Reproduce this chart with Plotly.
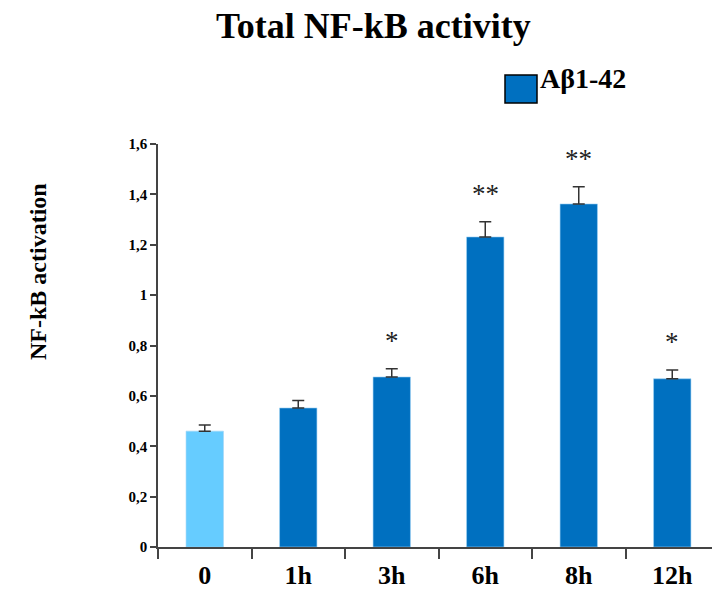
import plotly.graph_objects as go

categories = ["0", "1h", "3h", "6h", "8h", "12h"]
values = [0.46, 0.552, 0.675, 1.231, 1.362, 0.668]
errors = [0.024, 0.030, 0.033, 0.060, 0.068, 0.035]
stars = ["", "", "*", "**", "**", "*"]
colors = ["#66CCFF", "#0070C0", "#0070C0", "#0070C0", "#0070C0", "#0070C0"]
legend_label = "Aβ1-42"
title_text = "Total NF-kB activity"
y_title = "NF-kB activation"

# the page body adds an 8px offset; compensate
OFF = 8
W, H = 720 - OFF, 594 - OFF
L, R, T, B = 158 - OFF, 1, 144 - OFF, 47
pw, ph = W - L - R, H - T - B


def px2x(px):
    return (px - OFF - L) / pw


def py2y(py):
    return (H - B - (py - OFF)) / ph


fig = go.Figure()
fig.add_trace(go.Bar(
    x=categories, y=values, width=0.4,
    marker=dict(color=colors, line=dict(color="#9fd3f5", width=0.6)),
    error_y=dict(type="data", array=errors, arrayminus=[0]*len(errors),
                 symmetric=False, color="#333333", thickness=1.5, width=6),
    showlegend=False,
))

for c, v, e, s in zip(categories, values, errors, stars):
    if s:
        fig.add_annotation(x=c, y=v + e + 0.11, text=s, showarrow=False,
                           font=dict(family="Liberation Serif", size=27, color="#222"),
                           yanchor="middle", xanchor="center")

fig.add_shape(type="rect", xref="paper", yref="paper",
              x0=px2x(505), x1=px2x(537), y0=py2y(103), y1=py2y(75),
              fillcolor="#0070C0", line=dict(color="black", width=1.5))
fig.add_annotation(xref="paper", yref="paper", x=px2x(538), y=py2y(79),
                   text="<b>" + legend_label + "</b>", showarrow=False,
                   xanchor="left", yanchor="middle",
                   font=dict(family="Liberation Serif", size=28, color="black"))

fig.add_annotation(xref="paper", yref="paper", x=px2x(38), y=py2y(272),
                   text="<b>" + y_title + "</b>", showarrow=False, textangle=-90,
                   xanchor="center", yanchor="middle",
                   font=dict(family="Liberation Serif", size=24, color="black"))

fig.add_annotation(xref="paper", yref="paper", x=px2x(373), y=py2y(26),
                   text="<b>" + title_text + "</b>", showarrow=False,
                   xanchor="center", yanchor="middle",
                   font=dict(family="Liberation Serif", size=36, color="black"))

fig.update_layout(
    width=W, height=H,
    margin=dict(l=L, r=R, t=T, b=B, autoexpand=False),
    plot_bgcolor="white", paper_bgcolor="white",
    separators=", ",
    bargap=0.6,
)
fig.update_xaxes(
    type="category", tickson="boundaries", ticks="outside", ticklen=10,
    tickcolor="#444", tickwidth=1.5, showline=True, linecolor="#444", linewidth=1.5,
    tickfont=dict(family="Liberation Serif", size=26, color="black", weight="bold"),
    ticklabelstandoff=4,
    showgrid=False, zeroline=False, automargin=False,
)
fig.update_yaxes(
    range=[0, 1.6], tickvals=[0, 0.2, 0.4, 0.6, 0.8, 1, 1.2, 1.4, 1.6],
    ticks="outside", ticklen=6, tickcolor="#444", tickwidth=1.5,
    showline=True, linecolor="#444", linewidth=1.5,
    tickfont=dict(family="Liberation Serif", size=15, color="black", weight="bold"),
    showgrid=False, zeroline=False, automargin=False,
)

fig.write_html("out.html")
